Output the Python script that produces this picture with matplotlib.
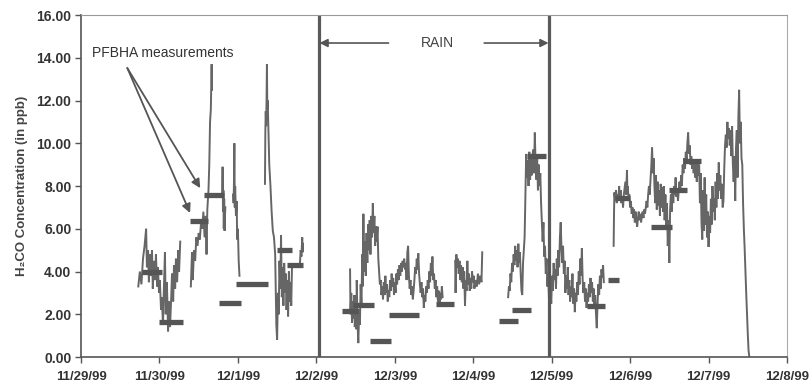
import matplotlib.pyplot as plt

# x in days since 11/29/99 00:00, y in ppb
date_labels = ['11/29/99', '11/30/99', '12/1/99', '12/2/99', '12/3/99',
               '12/4/99', '12/5/99', '12/6/99', '12/7/99', '12/8/99']

# continuous H2CO record, one list pair per stretch of data
seg1_t = [0.73, 0.75, 0.77, 0.79, 0.81, 0.83, 0.84, 0.855, 0.865, 0.88, 0.89, 0.905, 0.915,
          0.93, 0.945, 0.955, 0.97, 0.98, 0.995, 1.005, 1.02, 1.03, 1.045, 1.055, 1.07, 1.08,
          1.095, 1.11, 1.12, 1.135, 1.15, 1.16, 1.175, 1.185, 1.20, 1.21, 1.225, 1.24, 1.25, 1.265]
seg1_v = [3.3, 4.0, 3.4, 4.6, 5.2, 6.0, 4.2, 5.0, 3.5, 4.8, 3.8, 5.0, 3.2,
          4.5, 3.6, 4.8, 3.3, 4.2, 3.0, 3.6, 2.2, 2.8, 1.5, 3.0, 4.9, 2.0,
          3.5, 1.2, 2.6, 1.4, 2.8, 3.9, 2.6, 4.3, 3.2, 4.6, 3.5, 5.0, 4.0, 5.4]

seg2_t = [1.40, 1.415, 1.425, 1.44, 1.455, 1.47, 1.485, 1.50, 1.515, 1.53, 1.545, 1.56, 1.575,
          1.59, 1.60, 1.61, 1.625, 1.635, 1.645, 1.655, 1.665, 1.67]
seg2_v = [3.3, 4.9, 3.6, 5.0, 4.5, 5.6, 5.2, 5.8, 5.5, 6.3, 6.0, 6.8, 5.6,
          6.6, 4.8, 6.9, 7.8, 9.0, 11.0, 11.6, 13.7, 12.5]

seg3_t = [1.80, 1.805, 1.81, 1.815, 1.82, 1.825, 1.83, 1.835, 1.84]
seg3_v = [7.6, 8.9, 6.8, 7.8, 6.0, 7.4, 5.9, 6.6, 7.0]

seg4_t = [1.94, 1.945, 1.95, 1.955, 1.96, 1.965, 1.975, 1.985, 1.99, 2.00, 2.01, 2.02]
seg4_v = [7.6, 7.2, 8.2, 10.0, 7.0, 8.0, 6.6, 7.3, 5.5, 6.0, 4.5, 3.8]

seg5_t = [2.345, 2.35, 2.355, 2.36, 2.365, 2.37, 2.375, 2.38, 2.39, 2.40, 2.415, 2.43, 2.445,
          2.46, 2.475, 2.49, 2.50, 2.51, 2.52, 2.53, 2.54, 2.55, 2.56, 2.57, 2.58, 2.59, 2.60,
          2.61, 2.62, 2.63, 2.64, 2.65, 2.66, 2.67, 2.68, 2.69, 2.72, 2.76, 2.79, 2.80, 2.81,
          2.82, 2.825, 2.83]
seg5_v = [8.1, 10.6, 11.5, 10.8, 12.0, 13.7, 11.6, 12.0, 10.5, 9.0, 8.0, 6.8, 5.9,
          5.6, 4.8, 1.5, 0.8, 3.0, 2.0, 4.5, 3.2, 5.7, 2.8, 4.2, 2.4, 4.4, 3.0,
          3.9, 2.2, 3.6, 1.9, 4.0, 2.6, 3.5, 2.4, 4.3, 4.3, 4.3, 4.3, 5.0, 4.7,
          5.6, 4.9, 5.3]

seg6_t = [3.43, 3.435, 3.445, 3.455, 3.465, 3.475, 3.485, 3.49, 3.50, 3.51, 3.515, 3.525, 3.535,
          3.545, 3.555, 3.565, 3.575, 3.585, 3.59, 3.60, 3.61, 3.62, 3.63, 3.64, 3.65, 3.66,
          3.67, 3.68, 3.69, 3.70, 3.71, 3.72, 3.73, 3.74, 3.75, 3.76, 3.77, 3.78, 3.79, 3.80,
          3.81, 3.82, 3.83, 3.84, 3.85, 3.86, 3.87, 3.88, 3.89, 3.90, 3.91, 3.92, 3.93, 3.94,
          3.95, 3.96, 3.97, 3.98, 3.99, 4.00, 4.01, 4.02, 4.03, 4.04, 4.05, 4.06, 4.07, 4.08,
          4.09, 4.10, 4.11, 4.12, 4.13, 4.14, 4.15, 4.16, 4.17, 4.18, 4.19, 4.20, 4.21, 4.22,
          4.23, 4.24, 4.25, 4.26, 4.27, 4.28, 4.29, 4.30, 4.31, 4.32, 4.33, 4.34, 4.35, 4.36,
          4.37, 4.38, 4.39, 4.40, 4.41, 4.42, 4.43, 4.44, 4.45, 4.46, 4.47, 4.48, 4.49, 4.50,
          4.51, 4.52, 4.53, 4.54, 4.55, 4.56, 4.57, 4.58, 4.59, 4.60, 4.61]
seg6_v = [4.1, 2.0, 3.0, 1.6, 2.6, 1.8, 2.9, 1.4, 2.2, 1.3, 3.6, 1.6, 0.65,
          2.0, 1.5, 3.4, 2.4, 4.8, 3.3, 6.7, 4.0, 5.4, 3.8, 5.8, 4.4, 6.2,
          5.0, 6.4, 4.8, 6.6, 5.6, 7.2, 5.8, 6.6, 5.2, 6.1, 5.4, 6.1, 4.6, 4.0,
          3.4, 3.6, 2.9, 3.3, 2.7, 3.5, 2.9, 3.8, 3.0, 3.4, 2.6, 3.1, 2.8, 3.6,
          3.1, 3.9, 3.3, 3.7, 2.9, 3.5, 3.0, 3.9, 3.4, 4.1, 3.6, 4.3, 3.8, 4.4,
          4.0, 4.5, 4.2, 4.6, 4.1, 4.4, 3.6, 4.9, 5.2, 3.8, 3.2, 3.6, 2.9, 3.3,
          2.7, 3.1, 3.6, 4.2, 3.9, 4.6, 4.1, 4.85, 3.9, 3.4, 3.0, 3.5, 2.8, 3.2,
          2.3, 2.9, 2.6, 3.3, 3.0, 3.6, 3.2, 4.0, 3.5, 4.4, 3.8, 4.7, 3.6, 3.9,
          3.2, 3.6, 2.8, 3.3, 2.6, 3.1, 2.5, 3.0, 2.7, 3.3, 2.8]

seg7_t = [4.77, 4.775, 4.785, 4.795, 4.805, 4.815, 4.825, 4.835, 4.845, 4.855, 4.865, 4.875,
          4.885, 4.895, 4.905, 4.915, 4.925, 4.935, 4.945, 4.955, 4.965, 4.975, 4.985, 4.995,
          5.005, 5.015, 5.03, 5.045, 5.06, 5.075, 5.09, 5.105, 5.115]
seg7_v = [4.5, 3.0, 4.8, 4.2, 4.6, 3.9, 4.5, 3.6, 4.3, 3.5, 4.2, 3.2,
          4.0, 2.4, 3.6, 3.1, 4.5, 3.4, 3.9, 3.1, 3.7, 3.2, 4.0, 3.5,
          3.8, 3.2, 3.6, 3.3, 3.9, 3.4, 3.8, 3.5, 4.9]

seg8_t = [5.445, 5.455, 5.465, 5.475, 5.485, 5.495, 5.505, 5.515, 5.525, 5.535, 5.545, 5.555,
          5.565, 5.575, 5.585, 5.595, 5.605, 5.615, 5.625, 5.635, 5.645, 5.655, 5.665, 5.675,
          5.685, 5.695, 5.705, 5.715, 5.725, 5.735, 5.745, 5.755, 5.765, 5.775, 5.785, 5.795,
          5.805, 5.815, 5.825, 5.835, 5.845, 5.855, 5.865, 5.875, 5.885, 5.895, 5.905, 5.915,
          5.925, 5.935, 5.945, 5.955, 5.965, 5.975, 5.985, 5.995, 6.005, 6.015, 6.025, 6.035,
          6.045, 6.055, 6.065, 6.075, 6.085, 6.095, 6.105, 6.115, 6.125, 6.135, 6.145, 6.155,
          6.165, 6.175, 6.185, 6.195, 6.205, 6.215, 6.225, 6.235, 6.245, 6.255, 6.265, 6.275,
          6.285, 6.295, 6.305, 6.315, 6.325, 6.335, 6.345, 6.355, 6.365, 6.375, 6.385, 6.395,
          6.405, 6.415, 6.425, 6.435, 6.445, 6.455, 6.465, 6.475, 6.485, 6.495, 6.505, 6.515,
          6.525, 6.535, 6.545, 6.555, 6.565, 6.575, 6.585, 6.595, 6.605, 6.615, 6.625, 6.635,
          6.645, 6.655, 6.665]
seg8_v = [2.8, 3.3, 3.1, 3.9, 3.5, 4.4, 4.0, 4.8, 4.3, 5.2, 4.5, 5.0,
          4.2, 5.3, 4.4, 4.9, 3.9, 3.1, 2.9, 4.4, 5.0, 5.6, 7.5, 9.5,
          8.4, 9.2, 8.0, 9.6, 8.3, 9.3, 8.5, 9.4, 9.7, 8.6, 10.5, 9.0,
          8.3, 9.3, 7.8, 9.0, 8.0, 8.6, 7.2, 6.3, 5.4, 6.3, 4.7, 5.2,
          3.9, 4.6, 3.3, 3.9, 2.8, 4.5, 3.0, 2.5, 3.8, 3.1, 4.4, 3.6,
          4.1, 3.2, 4.6, 3.8, 5.0, 4.2, 5.6, 6.3, 5.1, 4.4, 5.2, 3.9,
          4.5, 3.0, 3.8, 3.2, 4.2, 2.9, 3.6, 2.6, 3.3, 2.8, 3.9, 2.5,
          3.2, 2.1, 3.0, 2.6, 3.5, 2.9, 4.0, 3.4, 4.6, 3.8, 5.1, 3.6,
          3.0, 3.5, 2.6, 3.2, 2.3, 3.0, 2.6, 3.4, 2.8, 3.7, 3.0, 3.5,
          2.6, 3.2, 2.4, 2.9, 2.0, 1.35, 2.5, 3.4, 2.9, 3.8, 3.2, 4.1,
          3.7, 4.3, 3.5]

seg9_t = [6.79, 6.795, 6.80, 6.81, 6.82, 6.83, 6.84, 6.85, 6.86, 6.87, 6.88, 6.89, 6.90, 6.91,
          6.92, 6.93, 6.94, 6.95, 6.96, 6.965, 6.97, 6.98, 6.99, 7.00, 7.01, 7.02, 7.03, 7.04,
          7.05, 7.06, 7.07, 7.08, 7.09, 7.10, 7.11, 7.12, 7.13, 7.14, 7.15, 7.16, 7.17, 7.18,
          7.19, 7.20, 7.21, 7.22, 7.23, 7.24, 7.25, 7.26, 7.27, 7.28, 7.29, 7.30, 7.31, 7.32,
          7.33, 7.34, 7.35, 7.36, 7.37, 7.38, 7.39, 7.40, 7.41, 7.42, 7.43, 7.44, 7.45, 7.46,
          7.47, 7.48, 7.49, 7.50, 7.51, 7.52, 7.53, 7.54, 7.55, 7.56, 7.57, 7.58, 7.59, 7.60,
          7.61, 7.62, 7.63, 7.64, 7.65, 7.66, 7.67, 7.68, 7.69, 7.70, 7.71, 7.72, 7.73, 7.74,
          7.75, 7.76, 7.77, 7.78, 7.79, 7.80, 7.81, 7.82, 7.83, 7.84, 7.85, 7.86, 7.87, 7.88,
          7.89, 7.90, 7.91, 7.92, 7.93, 7.94, 7.95, 7.96, 7.97, 7.98, 7.99, 8.00, 8.01, 8.02,
          8.03, 8.04, 8.05, 8.06, 8.07, 8.08, 8.09, 8.10, 8.11, 8.12, 8.13, 8.14, 8.15, 8.16,
          8.17, 8.18, 8.19, 8.20, 8.21, 8.22, 8.23, 8.24, 8.25, 8.26, 8.27, 8.28, 8.29, 8.30,
          8.31, 8.32, 8.33, 8.34, 8.35, 8.36, 8.37, 8.38, 8.39, 8.40, 8.41, 8.42, 8.43, 8.44,
          8.45, 8.46, 8.47, 8.48, 8.49, 8.50, 8.51, 8.52]
seg9_v = [5.2, 6.8, 7.7, 7.3, 7.8, 7.2, 7.6, 7.3, 8.0, 7.4, 7.8, 7.2, 7.5, 7.0,
          7.6, 7.9, 8.2, 7.6, 8.75, 7.8, 8.0, 7.4, 7.6, 7.0, 7.3, 6.7, 7.0, 6.5,
          6.9, 6.3, 6.8, 6.4, 6.1, 6.5, 6.8, 6.4, 6.7, 6.3, 6.6, 6.8, 6.5, 6.9,
          6.7, 7.0, 7.3, 7.0, 7.6, 8.0, 7.6, 8.3, 8.9, 9.8, 8.6, 9.3, 8.0, 7.2,
          8.5, 6.9, 8.2, 7.1, 7.8, 6.6, 8.1, 7.0, 7.95, 6.8, 8.0, 6.4, 7.6, 6.0,
          7.2, 5.2, 6.4, 4.4, 6.9, 7.6, 6.8, 7.9, 7.2, 8.0, 7.6, 8.4, 7.5, 7.9,
          7.3, 7.8, 8.2, 7.7, 8.5, 8.0, 9.0, 8.6, 9.3, 8.8, 9.6, 9.2, 10.0, 10.5,
          9.5, 9.9, 9.0, 9.4, 8.8, 9.2, 8.6, 9.1, 8.4, 9.0, 8.2, 9.1, 8.5, 9.0,
          7.2, 8.6, 6.3, 5.5, 7.8, 5.9, 8.4, 6.2, 7.6, 5.6, 6.8, 5.15, 6.6, 5.8,
          7.4, 6.2, 8.0, 6.8, 7.4, 6.4, 8.2, 7.0, 8.6, 7.4, 9.1, 7.8, 8.5, 7.4,
          8.1, 7.0, 7.3, 8.8, 9.9, 10.4, 9.8, 11.0, 10.2, 10.7, 9.9, 10.6, 9.4, 10.8,
          9.0, 8.2, 9.4, 7.3, 9.8, 10.6, 8.4, 11.2, 12.5, 10.0, 11.0, 9.3, 9.0, 7.2,
          6.0, 5.1, 4.0, 3.0, 2.0, 1.1, 0.3, 0.0]

segments = [(seg1_t, seg1_v), (seg2_t, seg2_v), (seg3_t, seg3_v), (seg4_t, seg4_v),
            (seg5_t, seg5_v), (seg6_t, seg6_v), (seg7_t, seg7_v), (seg8_t, seg8_v),
            (seg9_t, seg9_v)]

# PFBHA cartridge measurements (start, end, value)
pfbha_start = [0.78, 0.99, 1.39, 1.57, 1.76, 1.98, 2.50, 2.63,
               3.33, 3.47, 3.69, 3.92, 4.52, 5.33, 5.50, 5.69,
               6.45, 6.72, 6.81, 7.26, 7.50, 7.68]
pfbha_end = [1.03, 1.30, 1.62, 1.82, 2.04, 2.38, 2.69, 2.83,
             3.55, 3.74, 3.95, 4.31, 4.75, 5.57, 5.74, 5.93,
             6.68, 6.86, 7.00, 7.54, 7.73, 7.91]
pfbha_value = [4.0, 1.65, 6.35, 7.6, 2.55, 3.4, 5.0, 4.3,
               2.15, 2.45, 0.75, 1.95, 2.5, 1.7, 2.2, 9.4,
               2.4, 3.6, 7.45, 6.1, 7.8, 9.15]

rain_start = 3.04
rain_end = 5.96

fig = plt.figure(figsize=(8.11, 3.87), dpi=100)
ax = fig.add_axes([0.0999, 0.0775, 0.8705, 0.8837])

for t, v in segments:
    ax.plot(t, v, color='#666666', lw=1.4, solid_joinstyle='miter')

ax.hlines(pfbha_value, pfbha_start, pfbha_end, color='#555555', lw=3.8)

ax.axvline(rain_start, color='#5a5a5a', lw=2.3)
ax.axvline(rain_end, color='#5a5a5a', lw=2.3)

# RAIN label with arrows
ax.text(4.54, 14.69, 'RAIN', ha='center', va='center', fontsize=10,
        family='Liberation Sans', color='#444444')
ax.annotate('', xy=(rain_start, 14.69), xytext=(3.92, 14.69),
            arrowprops=dict(arrowstyle='-|>', color='#555555', lw=1.2, mutation_scale=12,
                            shrinkA=0, shrinkB=0))
ax.annotate('', xy=(rain_end, 14.69), xytext=(5.14, 14.69),
            arrowprops=dict(arrowstyle='-|>', color='#555555', lw=1.2, mutation_scale=12,
                            shrinkA=0, shrinkB=0))

# PFBHA label with two arrows
ax.text(0.14, 14.2, 'PFBHA measurements', ha='left', va='center', fontsize=10,
        family='Liberation Sans', color='#333333')
for tip in [(1.39, 6.74), (1.52, 7.9)]:
    ax.annotate('', xy=tip, xytext=(0.59, 13.52),
                arrowprops=dict(arrowstyle='-|>', color='#555555', lw=1.3, mutation_scale=13,
                                shrinkA=0, shrinkB=0))

ax.set_xlim(0, 9)
ax.set_ylim(0, 16)
ax.set_xticks(range(len(date_labels)))
ax.set_xticklabels(date_labels)
ax.set_yticks(range(0, 17, 2))
ax.set_yticklabels(['%.2f' % y for y in range(0, 17, 2)])
for lab in ax.get_xticklabels() + ax.get_yticklabels():
    lab.set_family('Liberation Sans')
    lab.set_fontweight('bold')
    lab.set_color('#333333')
for lab in ax.get_xticklabels():
    lab.set_fontsize(9.5)
for lab in ax.get_yticklabels():
    lab.set_fontsize(10)
ax.tick_params(axis='both', direction='out', length=4, width=1, color='#555555')
ax.tick_params(axis='x', pad=6)
ax.tick_params(axis='y', pad=3)

ax.set_ylabel('H\u2082CO Concentration (in ppb)', fontsize=9.5, fontweight='bold',
              family=['Liberation Sans', 'DejaVu Sans'], color='#444444', labelpad=6)

ax.spines['left'].set_color('#555555')
ax.spines['bottom'].set_color('#555555')
ax.spines['left'].set_linewidth(1.2)
ax.spines['bottom'].set_linewidth(1.2)
ax.spines['top'].set_color('#999999')
ax.spines['right'].set_color('#aaaaaa')
ax.spines['top'].set_linewidth(0.8)
ax.spines['right'].set_linewidth(0.8)

plt.savefig('out.png', dpi=100)
